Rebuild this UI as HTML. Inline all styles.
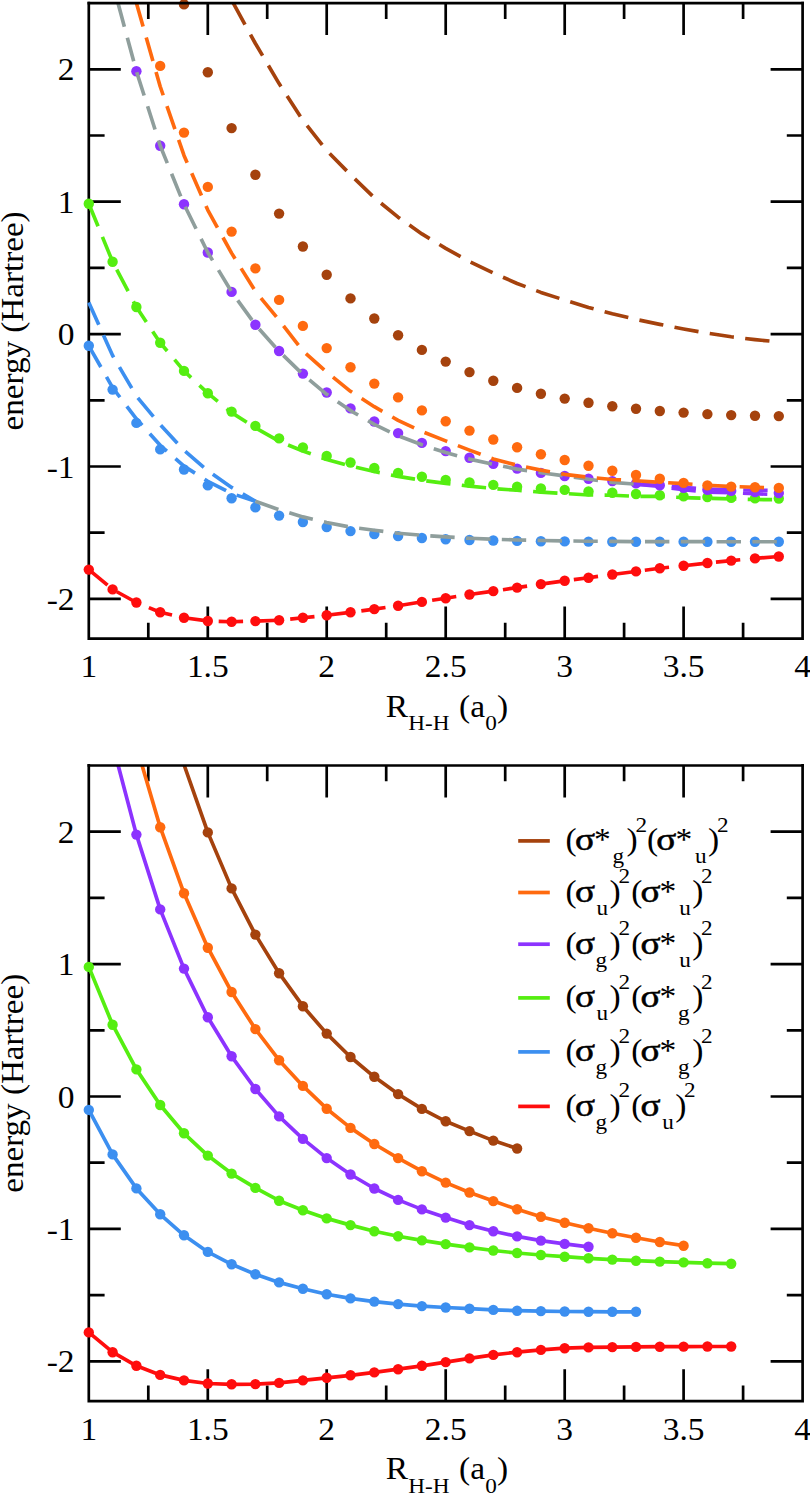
<!DOCTYPE html>
<html><head><meta charset="utf-8"><title>H4 energies</title>
<style>html,body{margin:0;padding:0;background:#fff;overflow:hidden}svg{display:block}text{font-family:"Liberation Serif",serif;font-size:31px;fill:#000}</style></head><body>
<svg width="810" height="1493" viewBox="0 0 810 1493">
<rect width="810" height="1493" fill="#fff"/>
<defs><clipPath id="c1"><rect x="88.8" y="3.1" width="713.8" height="635.5"/></clipPath><clipPath id="c2"><rect x="88.8" y="765.5" width="713.8" height="635.7"/></clipPath></defs>
<g fill="none" stroke="#000" stroke-width="2.7" stroke-linecap="butt" stroke-linejoin="miter">
<path d="M88.8 1.8 V638.6 H802.6 V1.8" />
<path d="M148.3 3.1 v15.8 M148.3 638.6 v-15.8 M207.8 3.1 v32 M207.8 638.6 v-32 M267.2 3.1 v15.8 M267.2 638.6 v-15.8 M326.7 3.1 v32 M326.7 638.6 v-32 M386.2 3.1 v15.8 M386.2 638.6 v-15.8 M445.7 3.1 v32 M445.7 638.6 v-32 M505.2 3.1 v15.8 M505.2 638.6 v-15.8 M564.7 3.1 v32 M564.7 638.6 v-32 M624.1 3.1 v15.8 M624.1 638.6 v-15.8 M683.6 3.1 v32 M683.6 638.6 v-32 M743.1 3.1 v15.8 M743.1 638.6 v-15.8 M88.8 69.3 h32 M802.6 69.3 h-32 M88.8 135.5 h15.8 M802.6 135.5 h-15.8 M88.8 201.7 h32 M802.6 201.7 h-32 M88.8 267.9 h15.8 M802.6 267.9 h-15.8 M88.8 334.1 h32 M802.6 334.1 h-32 M88.8 400.3 h15.8 M802.6 400.3 h-15.8 M88.8 466.5 h32 M802.6 466.5 h-32 M88.8 532.7 h15.8 M802.6 532.7 h-15.8 M88.8 598.9 h32 M802.6 598.9 h-32" />
</g>
<g fill="#ff0d0d"><circle cx="88.8" cy="569.6" r="5.2"/><circle cx="112.6" cy="589.4" r="5.2"/><circle cx="136.4" cy="602.5" r="5.2"/><circle cx="160.2" cy="612.3" r="5.2"/><circle cx="184" cy="617.8" r="5.2"/><circle cx="207.8" cy="621" r="5.2"/><circle cx="231.6" cy="621.7" r="5.2"/><circle cx="255.4" cy="621.1" r="5.2"/><circle cx="279.1" cy="620.2" r="5.2"/><circle cx="302.9" cy="617.8" r="5.2"/><circle cx="326.7" cy="615.3" r="5.2"/><circle cx="350.5" cy="612.3" r="5.2"/><circle cx="374.3" cy="609.1" r="5.2"/><circle cx="398.1" cy="605.7" r="5.2"/><circle cx="421.9" cy="601.9" r="5.2"/><circle cx="445.7" cy="598.2" r="5.2"/><circle cx="469.5" cy="594.5" r="5.2"/><circle cx="493.3" cy="591.1" r="5.2"/><circle cx="517.1" cy="587.6" r="5.2"/><circle cx="540.9" cy="584.1" r="5.2"/><circle cx="564.7" cy="580.8" r="5.2"/><circle cx="588.5" cy="577.7" r="5.2"/><circle cx="612.3" cy="574.5" r="5.2"/><circle cx="636" cy="571.4" r="5.2"/><circle cx="659.8" cy="568.3" r="5.2"/><circle cx="683.6" cy="565.7" r="5.2"/><circle cx="707.4" cy="563" r="5.2"/><circle cx="731.2" cy="560.6" r="5.2"/><circle cx="755" cy="558.4" r="5.2"/><circle cx="778.8" cy="556.5" r="5.2"/></g>
<g fill="none" stroke-width="3.65" stroke-dasharray="24.4 11.4" stroke-linejoin="round">
<path d="M88.8 569.6 L112.6 589.4 L136.4 602.5 L160.2 612.3 L184 617.8 L207.8 621 L231.6 621.7 L255.4 621.1 L279.1 620.2 L302.9 617.8 L326.7 615.3 L350.5 612.3 L374.3 609.1 L398.1 605.7 L421.9 601.9 L445.7 598.2 L469.5 594.5 L493.3 591.1 L517.1 587.6 L540.9 584.1 L564.7 580.8 L588.5 577.7 L612.3 574.5 L636 571.4 L659.8 568.3 L683.6 565.7 L707.4 563 L731.2 560.6 L755 558.4 L778.8 556.5" stroke="#ff0d0d"/>
</g>
<g fill="#3c8ff0"><circle cx="88.8" cy="345.8" r="5.2"/><circle cx="112.6" cy="389.6" r="5.2"/><circle cx="136.4" cy="422.9" r="5.2"/><circle cx="160.2" cy="449.4" r="5.2"/><circle cx="184" cy="469.5" r="5.2"/><circle cx="207.8" cy="485.4" r="5.2"/><circle cx="231.6" cy="498.3" r="5.2"/><circle cx="255.4" cy="507.4" r="5.2"/><circle cx="279.1" cy="515.6" r="5.2"/><circle cx="302.9" cy="522" r="5.2"/><circle cx="326.7" cy="527.1" r="5.2"/><circle cx="350.5" cy="531.1" r="5.2"/><circle cx="374.3" cy="534" r="5.2"/><circle cx="398.1" cy="536.1" r="5.2"/><circle cx="421.9" cy="538" r="5.2"/><circle cx="445.7" cy="539.2" r="5.2"/><circle cx="469.5" cy="540" r="5.2"/><circle cx="493.3" cy="540.5" r="5.2"/><circle cx="517.1" cy="540.9" r="5.2"/><circle cx="540.9" cy="541.2" r="5.2"/><circle cx="564.7" cy="541.4" r="5.2"/><circle cx="588.5" cy="541.6" r="5.2"/><circle cx="612.3" cy="541.7" r="5.2"/><circle cx="636" cy="541.7" r="5.2"/><circle cx="659.8" cy="541.7" r="5.2"/><circle cx="683.6" cy="541.7" r="5.2"/><circle cx="707.4" cy="541.7" r="5.2"/><circle cx="731.2" cy="541.7" r="5.2"/><circle cx="755" cy="541.7" r="5.2"/><circle cx="778.8" cy="541.7" r="5.2"/></g>
<g fill="none" stroke-width="3.65" stroke-dasharray="24.4 11.4" stroke-linejoin="round">
<path d="M88.8 345.8 L112.6 387.7 L136.4 418.8 L160.2 445.3 L184 466.1 L207.8 481.3 L231.6 493.5 L255.4 501.3" stroke="#3c8ff0"/>
<path d="M88.8 302.5 L112.6 355.5 L136.4 396.1 L160.2 424.7 L184 450.3 L207.8 470.7 L231.6 487.4 L255.4 501.3" stroke="#3c8ff0"/>
<path d="M255.4 501.3 L279.1 509.7 L302.9 516.9 L326.7 522.5 L350.5 527.1 L374.3 530.2 L398.1 533.2 L421.9 535.3 L445.7 536.9 L469.5 538.3 L493.3 539.2 L517.1 540 L540.9 540.5 L564.7 540.9 L588.5 541.2 L612.3 541.4 L636 541.6 L659.8 541.6 L683.6 541.6 L707.4 541.7 L731.2 541.7 L755 541.7 L778.8 541.7" stroke="#8f9e9c"/>
</g>
<g fill="#55ee11"><circle cx="88.8" cy="203.7" r="5.2"/><circle cx="112.6" cy="261.7" r="5.2"/><circle cx="136.4" cy="307" r="5.2"/><circle cx="160.2" cy="342.7" r="5.2"/><circle cx="184" cy="370.9" r="5.2"/><circle cx="207.8" cy="393.2" r="5.2"/><circle cx="231.6" cy="411.6" r="5.2"/><circle cx="255.4" cy="425.9" r="5.2"/><circle cx="279.1" cy="438.4" r="5.2"/><circle cx="302.9" cy="447.4" r="5.2"/><circle cx="326.7" cy="455.9" r="5.2"/><circle cx="350.5" cy="462.5" r="5.2"/><circle cx="374.3" cy="468" r="5.2"/><circle cx="398.1" cy="472.9" r="5.2"/><circle cx="421.9" cy="476.7" r="5.2"/><circle cx="445.7" cy="479.9" r="5.2"/><circle cx="469.5" cy="482.5" r="5.2"/><circle cx="493.3" cy="484.9" r="5.2"/><circle cx="517.1" cy="486.8" r="5.2"/><circle cx="540.9" cy="488.5" r="5.2"/><circle cx="564.7" cy="489.9" r="5.2"/><circle cx="588.5" cy="491.4" r="5.2"/><circle cx="612.3" cy="492.8" r="5.2"/><circle cx="636" cy="494" r="5.2"/><circle cx="659.8" cy="495.2" r="5.2"/><circle cx="683.6" cy="496.4" r="5.2"/><circle cx="707.4" cy="497.1" r="5.2"/><circle cx="731.2" cy="497.7" r="5.2"/><circle cx="755" cy="498.3" r="5.2"/><circle cx="778.8" cy="498.5" r="5.2"/></g>
<g fill="none" stroke-width="3.65" stroke-dasharray="24.4 11.4" stroke-linejoin="round">
<path d="M88.8 203.7 L112.6 261.7 L136.4 307 L160.2 342.7 L184 370.9 L207.8 393.2 L231.6 412.6 L255.4 427.8 L279.1 441.3 L302.9 451 L326.7 459.5 L350.5 466.1 L374.3 471.5 L398.1 476.4 L421.9 480.3 L445.7 483.4 L469.5 486.1 L493.3 488.5 L517.1 490.3 L540.9 492.1 L564.7 493.5 L588.5 495 L612.3 495.2 L636 496.4 L659.8 496.4 L683.6 497.6 L707.4 498.3 L731.2 498.9 L755 499.5 L778.8 499.7" stroke="#55ee11"/>
</g>
<g fill="#8c33ff"><circle cx="136.4" cy="71.2" r="5.2"/><circle cx="160.2" cy="145.7" r="5.2"/><circle cx="184" cy="204.3" r="5.2"/><circle cx="207.8" cy="252.5" r="5.2"/><circle cx="231.6" cy="291.9" r="5.2"/><circle cx="255.4" cy="324.7" r="5.2"/><circle cx="279.1" cy="351" r="5.2"/><circle cx="302.9" cy="373.6" r="5.2"/><circle cx="326.7" cy="392.5" r="5.2"/><circle cx="350.5" cy="408.4" r="5.2"/><circle cx="374.3" cy="421.5" r="5.2"/><circle cx="398.1" cy="433.1" r="5.2"/><circle cx="421.9" cy="442.9" r="5.2"/><circle cx="445.7" cy="451.1" r="5.2"/><circle cx="469.5" cy="457.8" r="5.2"/><circle cx="493.3" cy="463.7" r="5.2"/><circle cx="517.1" cy="468.6" r="5.2"/><circle cx="540.9" cy="472.9" r="5.2"/><circle cx="564.7" cy="476" r="5.2"/><circle cx="588.5" cy="478.8" r="5.2"/><circle cx="612.3" cy="481.1" r="5.2"/><circle cx="636" cy="483.4" r="5.2"/><circle cx="659.8" cy="485.2" r="5.2"/><circle cx="683.6" cy="487.7" r="5.2"/><circle cx="707.4" cy="489.7" r="5.2"/><circle cx="731.2" cy="490.9" r="5.2"/><circle cx="755" cy="492.1" r="5.2"/><circle cx="778.8" cy="493.1" r="5.2"/></g>
<g fill="none" stroke-width="3.65" stroke-dasharray="24.4 11.4" stroke-linejoin="round">
<path d="M118 3.1 L136.4 71.2 L160.2 145.7 L184 204.3 L207.8 252.5 L231.6 291.9 L255.4 324.7 L279.1 351.3 L302.9 374.5 L326.7 394.3 L350.5 410.6 L374.3 424.4 L398.1 435.8 L421.9 444.8 L445.7 452.5 L469.5 459.1 L493.3 464.4 L517.1 469.1 L540.9 472.7 L564.7 475.9 L588.5 479.2 L612.3 482.4 L636 484.2" stroke="#8f9e9c"/>
<path d="M636 484.2 L659.8 485.4 L683.6 487.4 L707.4 489 L731.2 489.8 L755 490.2 L778.8 490.5" stroke="#8c33ff"/>
<path d="M636 484.2 L659.8 486.5 L683.6 489.8 L707.4 492.1 L731.2 492.8 L755 493.8 L778.8 494.6" stroke="#8c33ff"/>
</g>
<g fill="#ff6a0f"><circle cx="160.2" cy="65.9" r="5.2"/><circle cx="184" cy="132.6" r="5.2"/><circle cx="207.8" cy="186.9" r="5.2"/><circle cx="231.6" cy="231.6" r="5.2"/><circle cx="255.4" cy="268.4" r="5.2"/><circle cx="279.1" cy="299.9" r="5.2"/><circle cx="302.9" cy="325.9" r="5.2"/><circle cx="326.7" cy="348.1" r="5.2"/><circle cx="350.5" cy="367.2" r="5.2"/><circle cx="374.3" cy="383.6" r="5.2"/><circle cx="398.1" cy="397.4" r="5.2"/><circle cx="421.9" cy="410.4" r="5.2"/><circle cx="445.7" cy="421.2" r="5.2"/><circle cx="469.5" cy="430.6" r="5.2"/><circle cx="493.3" cy="439.5" r="5.2"/><circle cx="517.1" cy="447.2" r="5.2"/><circle cx="540.9" cy="454.3" r="5.2"/><circle cx="564.7" cy="460" r="5.2"/><circle cx="588.5" cy="465.7" r="5.2"/><circle cx="612.3" cy="470.7" r="5.2"/><circle cx="636" cy="475" r="5.2"/><circle cx="659.8" cy="478.7" r="5.2"/><circle cx="683.6" cy="482.9" r="5.2"/><circle cx="707.4" cy="485.4" r="5.2"/><circle cx="731.2" cy="486.6" r="5.2"/><circle cx="755" cy="487.3" r="5.2"/><circle cx="778.8" cy="487.9" r="5.2"/></g>
<g fill="none" stroke-width="3.65" stroke-dasharray="24.4 11.4" stroke-linejoin="round">
<path d="M136.4 3.1 L136.4 3.1 L160.2 86.5 L184 155.4 L207.8 210.1 L231.6 253.1 L255.4 291.3 L279.1 320.2 L302.9 351 L326.7 372.1 L350.5 391.3 L374.3 406.7 L398.1 420.3 L421.9 431.5 L445.7 440.9 L469.5 450.1 L493.3 459 L517.1 465.2 L540.9 470.1 L564.7 474.4 L588.5 477.2 L612.3 479.5 L636 480.7 L659.8 482.3 L683.6 483.6 L707.4 485.3 L731.2 486.5 L755 487.3 L778.8 488.1" stroke="#ff6a0f"/>
</g>
<g fill="#a5420d"><circle cx="184" cy="4.4" r="5.2"/><circle cx="207.8" cy="72.3" r="5.2"/><circle cx="231.6" cy="128.1" r="5.2"/><circle cx="255.4" cy="174.8" r="5.2"/><circle cx="279.1" cy="213.6" r="5.2"/><circle cx="302.9" cy="246.5" r="5.2"/><circle cx="326.7" cy="274.7" r="5.2"/><circle cx="350.5" cy="298.4" r="5.2"/><circle cx="374.3" cy="318.5" r="5.2"/><circle cx="398.1" cy="335.2" r="5.2"/><circle cx="421.9" cy="349.9" r="5.2"/><circle cx="445.7" cy="361.6" r="5.2"/><circle cx="469.5" cy="372.1" r="5.2"/><circle cx="493.3" cy="380.8" r="5.2"/><circle cx="517.1" cy="387.9" r="5.2"/><circle cx="540.9" cy="393.8" r="5.2"/><circle cx="564.7" cy="398.6" r="5.2"/><circle cx="588.5" cy="402.7" r="5.2"/><circle cx="612.3" cy="406.3" r="5.2"/><circle cx="636" cy="408.8" r="5.2"/><circle cx="659.8" cy="411" r="5.2"/><circle cx="683.6" cy="412.6" r="5.2"/><circle cx="707.4" cy="414.1" r="5.2"/><circle cx="731.2" cy="415.1" r="5.2"/><circle cx="755" cy="415.8" r="5.2"/><circle cx="778.8" cy="416.1" r="5.2"/></g>
<g fill="none" stroke-width="3.65" stroke-dasharray="24.4 11.4" stroke-linejoin="round">
<path d="M233.3 3.1 L255.4 43.5 L279.1 83.6 L302.9 120.4 L326.7 150.5 L350.5 174.7 L374.3 197.7 L398.1 217.2 L421.9 233.9 L445.7 248.4 L469.5 261.5 L493.3 273 L517.1 283.5 L540.9 292.4 L564.7 300.1 L588.5 307.4 L612.3 313.8 L636 319.4 L659.8 324.4 L683.6 329 L707.4 333.2 L731.2 336.8 L755 339.6 L778.8 342" stroke="#a5420d"/>
</g>
<g fill="none" stroke="#000" stroke-width="2.7">
<path d="M87.5 3.1 H804" />
</g>
<text transform="translate(74.6 80.3) scale(1.08 1)" text-anchor="end">2</text>
<text transform="translate(74.6 212.7) scale(1.08 1)" text-anchor="end">1</text>
<text transform="translate(74.6 345.1) scale(1.08 1)" text-anchor="end">0</text>
<text transform="translate(74.6 477.5) scale(1.08 1)" text-anchor="end">-1</text>
<text transform="translate(74.6 609.9) scale(1.08 1)" text-anchor="end">-2</text>
<text transform="translate(88.8 677.3) scale(1.08 1)" text-anchor="middle">1</text>
<text transform="translate(207.8 677.3) scale(1.08 1)" text-anchor="middle">1.5</text>
<text transform="translate(326.7 677.3) scale(1.08 1)" text-anchor="middle">2</text>
<text transform="translate(445.7 677.3) scale(1.08 1)" text-anchor="middle">2.5</text>
<text transform="translate(564.7 677.3) scale(1.08 1)" text-anchor="middle">3</text>
<text transform="translate(683.6 677.3) scale(1.08 1)" text-anchor="middle">3.5</text>
<text transform="translate(802.6 677.3) scale(1.08 1)" text-anchor="middle">4</text>
<text transform="translate(385.8 716.7) scale(1.08 1)">R</text>
<text transform="translate(408.2 730.2) scale(1.08 1)" style="font-size:21.5px">H-H</text>
<text transform="translate(459 716.7) scale(1.08 1)">(a</text>
<text transform="translate(485.2 730.2) scale(1.08 1)" style="font-size:21.5px">0</text>
<text transform="translate(497 716.7) scale(1.08 1)">)</text>
<text transform="translate(23.0 320.9) rotate(-90)" text-anchor="middle" textLength="219" lengthAdjust="spacingAndGlyphs">energy (Hartree)</text>
<g fill="none" stroke="#000" stroke-width="2.7" stroke-linecap="butt" stroke-linejoin="miter">
<path d="M88.8 764.1 V1401.2 H802.6 V764.1" />
<path d="M148.3 765.5 v15.8 M148.3 1401.2 v-15.8 M207.8 765.5 v32 M207.8 1401.2 v-32 M267.2 765.5 v15.8 M267.2 1401.2 v-15.8 M326.7 765.5 v32 M326.7 1401.2 v-32 M386.2 765.5 v15.8 M386.2 1401.2 v-15.8 M445.7 765.5 v32 M445.7 1401.2 v-32 M505.2 765.5 v15.8 M505.2 1401.2 v-15.8 M564.7 765.5 v32 M564.7 1401.2 v-32 M624.1 765.5 v15.8 M624.1 1401.2 v-15.8 M683.6 765.5 v32 M683.6 1401.2 v-32 M743.1 765.5 v15.8 M743.1 1401.2 v-15.8 M88.8 831.7 h32 M802.6 831.7 h-32 M88.8 897.9 h15.8 M802.6 897.9 h-15.8 M88.8 964.1 h32 M802.6 964.1 h-32 M88.8 1030.3 h15.8 M802.6 1030.3 h-15.8 M88.8 1096.5 h32 M802.6 1096.5 h-32 M88.8 1162.7 h15.8 M802.6 1162.7 h-15.8 M88.8 1228.9 h32 M802.6 1228.9 h-32 M88.8 1295.1 h15.8 M802.6 1295.1 h-15.8 M88.8 1361.3 h32 M802.6 1361.3 h-32" />
</g>
<path d="M88.8 1332.4 L112.6 1352.2 L136.4 1365.8 L160.2 1374.9 L184 1380.4 L207.8 1383.5 L231.6 1384.3 L255.4 1384.1 L279.1 1382.9 L302.9 1380.4 L326.7 1377.8 L350.5 1375.3 L374.3 1372.4 L398.1 1369.2 L421.9 1365.8 L445.7 1362.1 L469.5 1358.4 L493.3 1354.9 L517.1 1352.2 L540.9 1349.9 L564.7 1348.2 L588.5 1347.4 L612.3 1347.1 L636 1346.9 L659.8 1346.7 L683.6 1346.6 L707.4 1346.5 L731.2 1346.5" fill="none" stroke="#ff0d0d" stroke-width="3.7" stroke-linejoin="round"/>
<g fill="#ff0d0d"><circle cx="88.8" cy="1332.4" r="5.2"/><circle cx="112.6" cy="1352.2" r="5.2"/><circle cx="136.4" cy="1365.8" r="5.2"/><circle cx="160.2" cy="1374.9" r="5.2"/><circle cx="184" cy="1380.4" r="5.2"/><circle cx="207.8" cy="1383.5" r="5.2"/><circle cx="231.6" cy="1384.3" r="5.2"/><circle cx="255.4" cy="1384.1" r="5.2"/><circle cx="279.1" cy="1382.9" r="5.2"/><circle cx="302.9" cy="1380.4" r="5.2"/><circle cx="326.7" cy="1377.8" r="5.2"/><circle cx="350.5" cy="1375.3" r="5.2"/><circle cx="374.3" cy="1372.4" r="5.2"/><circle cx="398.1" cy="1369.2" r="5.2"/><circle cx="421.9" cy="1365.8" r="5.2"/><circle cx="445.7" cy="1362.1" r="5.2"/><circle cx="469.5" cy="1358.4" r="5.2"/><circle cx="493.3" cy="1354.9" r="5.2"/><circle cx="517.1" cy="1352.2" r="5.2"/><circle cx="540.9" cy="1349.9" r="5.2"/><circle cx="564.7" cy="1348.2" r="5.2"/><circle cx="588.5" cy="1347.4" r="5.2"/><circle cx="612.3" cy="1347.1" r="5.2"/><circle cx="636" cy="1346.9" r="5.2"/><circle cx="659.8" cy="1346.7" r="5.2"/><circle cx="683.6" cy="1346.6" r="5.2"/><circle cx="707.4" cy="1346.5" r="5.2"/><circle cx="731.2" cy="1346.5" r="5.2"/></g>
<path d="M88.8 1109.9 L112.6 1154.4 L136.4 1188.4 L160.2 1214.3 L184 1235.3 L207.8 1251.9 L231.6 1264.3 L255.4 1274.3 L279.1 1282.4 L302.9 1288.7 L326.7 1294.2 L350.5 1298.4 L374.3 1301.6 L398.1 1304.1 L421.9 1306.1 L445.7 1307.5 L469.5 1308.7 L493.3 1309.9 L517.1 1310.7 L540.9 1311.1 L564.7 1311.5 L588.5 1311.7 L612.3 1311.8 L636 1311.8" fill="none" stroke="#3c8ff0" stroke-width="3.7" stroke-linejoin="round"/>
<g fill="#3c8ff0"><circle cx="88.8" cy="1109.9" r="5.2"/><circle cx="112.6" cy="1154.4" r="5.2"/><circle cx="136.4" cy="1188.4" r="5.2"/><circle cx="160.2" cy="1214.3" r="5.2"/><circle cx="184" cy="1235.3" r="5.2"/><circle cx="207.8" cy="1251.9" r="5.2"/><circle cx="231.6" cy="1264.3" r="5.2"/><circle cx="255.4" cy="1274.3" r="5.2"/><circle cx="279.1" cy="1282.4" r="5.2"/><circle cx="302.9" cy="1288.7" r="5.2"/><circle cx="326.7" cy="1294.2" r="5.2"/><circle cx="350.5" cy="1298.4" r="5.2"/><circle cx="374.3" cy="1301.6" r="5.2"/><circle cx="398.1" cy="1304.1" r="5.2"/><circle cx="421.9" cy="1306.1" r="5.2"/><circle cx="445.7" cy="1307.5" r="5.2"/><circle cx="469.5" cy="1308.7" r="5.2"/><circle cx="493.3" cy="1309.9" r="5.2"/><circle cx="517.1" cy="1310.7" r="5.2"/><circle cx="540.9" cy="1311.1" r="5.2"/><circle cx="564.7" cy="1311.5" r="5.2"/><circle cx="588.5" cy="1311.7" r="5.2"/><circle cx="612.3" cy="1311.8" r="5.2"/><circle cx="636" cy="1311.8" r="5.2"/></g>
<path d="M88.8 966.9 L112.6 1024.7 L136.4 1069.4 L160.2 1105 L184 1133.3 L207.8 1155.6 L231.6 1173.6 L255.4 1187.9 L279.1 1200.7 L302.9 1210.2 L326.7 1218.4 L350.5 1225.1 L374.3 1231.2 L398.1 1236.2 L421.9 1240.4 L445.7 1244.1 L469.5 1247.4 L493.3 1250.5 L517.1 1253 L540.9 1255 L564.7 1256.7 L588.5 1258.3 L612.3 1259.6 L636 1260.7 L659.8 1261.6 L683.6 1262.4 L707.4 1263.2 L731.2 1263.7" fill="none" stroke="#55ee11" stroke-width="3.7" stroke-linejoin="round"/>
<g fill="#55ee11"><circle cx="88.8" cy="966.9" r="5.2"/><circle cx="112.6" cy="1024.7" r="5.2"/><circle cx="136.4" cy="1069.4" r="5.2"/><circle cx="160.2" cy="1105" r="5.2"/><circle cx="184" cy="1133.3" r="5.2"/><circle cx="207.8" cy="1155.6" r="5.2"/><circle cx="231.6" cy="1173.6" r="5.2"/><circle cx="255.4" cy="1187.9" r="5.2"/><circle cx="279.1" cy="1200.7" r="5.2"/><circle cx="302.9" cy="1210.2" r="5.2"/><circle cx="326.7" cy="1218.4" r="5.2"/><circle cx="350.5" cy="1225.1" r="5.2"/><circle cx="374.3" cy="1231.2" r="5.2"/><circle cx="398.1" cy="1236.2" r="5.2"/><circle cx="421.9" cy="1240.4" r="5.2"/><circle cx="445.7" cy="1244.1" r="5.2"/><circle cx="469.5" cy="1247.4" r="5.2"/><circle cx="493.3" cy="1250.5" r="5.2"/><circle cx="517.1" cy="1253" r="5.2"/><circle cx="540.9" cy="1255" r="5.2"/><circle cx="564.7" cy="1256.7" r="5.2"/><circle cx="588.5" cy="1258.3" r="5.2"/><circle cx="612.3" cy="1259.6" r="5.2"/><circle cx="636" cy="1260.7" r="5.2"/><circle cx="659.8" cy="1261.6" r="5.2"/><circle cx="683.6" cy="1262.4" r="5.2"/><circle cx="707.4" cy="1263.2" r="5.2"/><circle cx="731.2" cy="1263.7" r="5.2"/></g>
<path d="M118.2 765.5 L136.4 834.6 L160.2 909.4 L184 968.6 L207.8 1017.3 L231.6 1056.3 L255.4 1089 L279.1 1116.4 L302.9 1138.9 L326.7 1158.1 L350.5 1174.5 L374.3 1188.5 L398.1 1199.9 L421.9 1209.4 L445.7 1217.6 L469.5 1225.1 L493.3 1231.2 L517.1 1236.4 L540.9 1240.6 L564.7 1243.9 L588.5 1246.8" fill="none" stroke="#8c33ff" stroke-width="3.7" stroke-linejoin="round"/>
<g fill="#8c33ff"><circle cx="136.4" cy="834.6" r="5.2"/><circle cx="160.2" cy="909.4" r="5.2"/><circle cx="184" cy="968.6" r="5.2"/><circle cx="207.8" cy="1017.3" r="5.2"/><circle cx="231.6" cy="1056.3" r="5.2"/><circle cx="255.4" cy="1089" r="5.2"/><circle cx="279.1" cy="1116.4" r="5.2"/><circle cx="302.9" cy="1138.9" r="5.2"/><circle cx="326.7" cy="1158.1" r="5.2"/><circle cx="350.5" cy="1174.5" r="5.2"/><circle cx="374.3" cy="1188.5" r="5.2"/><circle cx="398.1" cy="1199.9" r="5.2"/><circle cx="421.9" cy="1209.4" r="5.2"/><circle cx="445.7" cy="1217.6" r="5.2"/><circle cx="469.5" cy="1225.1" r="5.2"/><circle cx="493.3" cy="1231.2" r="5.2"/><circle cx="517.1" cy="1236.4" r="5.2"/><circle cx="540.9" cy="1240.6" r="5.2"/><circle cx="564.7" cy="1243.9" r="5.2"/><circle cx="588.5" cy="1246.8" r="5.2"/></g>
<path d="M142.1 765.5 L160.2 827.2 L184 893.3 L207.8 947.7 L231.6 992 L255.4 1029.1 L279.1 1060.2 L302.9 1085.9 L326.7 1108.7 L350.5 1127.9 L374.3 1144 L398.1 1158.1 L421.9 1171.2 L445.7 1182.6 L469.5 1192.5 L493.3 1201.1 L517.1 1209.3 L540.9 1216.7 L564.7 1222.8 L588.5 1228.2 L612.3 1233.3 L636 1237.8 L659.8 1242 L683.6 1245.7" fill="none" stroke="#ff6a0f" stroke-width="3.7" stroke-linejoin="round"/>
<g fill="#ff6a0f"><circle cx="160.2" cy="827.2" r="5.2"/><circle cx="184" cy="893.3" r="5.2"/><circle cx="207.8" cy="947.7" r="5.2"/><circle cx="231.6" cy="992" r="5.2"/><circle cx="255.4" cy="1029.1" r="5.2"/><circle cx="279.1" cy="1060.2" r="5.2"/><circle cx="302.9" cy="1085.9" r="5.2"/><circle cx="326.7" cy="1108.7" r="5.2"/><circle cx="350.5" cy="1127.9" r="5.2"/><circle cx="374.3" cy="1144" r="5.2"/><circle cx="398.1" cy="1158.1" r="5.2"/><circle cx="421.9" cy="1171.2" r="5.2"/><circle cx="445.7" cy="1182.6" r="5.2"/><circle cx="469.5" cy="1192.5" r="5.2"/><circle cx="493.3" cy="1201.1" r="5.2"/><circle cx="517.1" cy="1209.3" r="5.2"/><circle cx="540.9" cy="1216.7" r="5.2"/><circle cx="564.7" cy="1222.8" r="5.2"/><circle cx="588.5" cy="1228.2" r="5.2"/><circle cx="612.3" cy="1233.3" r="5.2"/><circle cx="636" cy="1237.8" r="5.2"/><circle cx="659.8" cy="1242" r="5.2"/><circle cx="683.6" cy="1245.7" r="5.2"/></g>
<path d="M184.3 765.5 L207.8 832.4 L231.6 888.4 L255.4 934.6 L279.1 973.2 L302.9 1006.2 L326.7 1033.6 L350.5 1057 L374.3 1076.8 L398.1 1094.1 L421.9 1108.9 L445.7 1121.3 L469.5 1131.1 L493.3 1140.6 L517.1 1148.5" fill="none" stroke="#a5420d" stroke-width="3.7" stroke-linejoin="round"/>
<g fill="#a5420d"><circle cx="207.8" cy="832.4" r="5.2"/><circle cx="231.6" cy="888.4" r="5.2"/><circle cx="255.4" cy="934.6" r="5.2"/><circle cx="279.1" cy="973.2" r="5.2"/><circle cx="302.9" cy="1006.2" r="5.2"/><circle cx="326.7" cy="1033.6" r="5.2"/><circle cx="350.5" cy="1057" r="5.2"/><circle cx="374.3" cy="1076.8" r="5.2"/><circle cx="398.1" cy="1094.1" r="5.2"/><circle cx="421.9" cy="1108.9" r="5.2"/><circle cx="445.7" cy="1121.3" r="5.2"/><circle cx="469.5" cy="1131.1" r="5.2"/><circle cx="493.3" cy="1140.6" r="5.2"/><circle cx="517.1" cy="1148.5" r="5.2"/></g>
<g fill="none" stroke="#000" stroke-width="2.7">
<path d="M87.5 765.5 H804" />
</g>
<text transform="translate(74.6 842.7) scale(1.08 1)" text-anchor="end">2</text>
<text transform="translate(74.6 975.1) scale(1.08 1)" text-anchor="end">1</text>
<text transform="translate(74.6 1107.5) scale(1.08 1)" text-anchor="end">0</text>
<text transform="translate(74.6 1239.9) scale(1.08 1)" text-anchor="end">-1</text>
<text transform="translate(74.6 1372.3) scale(1.08 1)" text-anchor="end">-2</text>
<text transform="translate(88.8 1439.9) scale(1.08 1)" text-anchor="middle">1</text>
<text transform="translate(207.8 1439.9) scale(1.08 1)" text-anchor="middle">1.5</text>
<text transform="translate(326.7 1439.9) scale(1.08 1)" text-anchor="middle">2</text>
<text transform="translate(445.7 1439.9) scale(1.08 1)" text-anchor="middle">2.5</text>
<text transform="translate(564.7 1439.9) scale(1.08 1)" text-anchor="middle">3</text>
<text transform="translate(683.6 1439.9) scale(1.08 1)" text-anchor="middle">3.5</text>
<text transform="translate(802.6 1439.9) scale(1.08 1)" text-anchor="middle">4</text>
<text transform="translate(385.8 1479.3) scale(1.08 1)">R</text>
<text transform="translate(408.2 1492.8) scale(1.08 1)" style="font-size:21.5px">H-H</text>
<text transform="translate(459 1479.3) scale(1.08 1)">(a</text>
<text transform="translate(485.2 1492.8) scale(1.08 1)" style="font-size:21.5px">0</text>
<text transform="translate(497 1479.3) scale(1.08 1)">)</text>
<text transform="translate(23.0 1083.3) rotate(-90)" text-anchor="middle" textLength="219" lengthAdjust="spacingAndGlyphs">energy (Hartree)</text>
<path d="M518.2 840.9 H549.8" stroke="#a5420d" stroke-width="3.7" fill="none"/>
<text transform="translate(565.6 850.3) scale(1.08 1)">(</text><text transform="translate(574.9 850.3) scale(1.2 1)" stroke="#000" stroke-width="0.55">σ</text><text transform="translate(594 850.3) scale(1.08 1)">*</text><text transform="translate(612.4 863.3) scale(1.08 1)" style="font-size:21.5px">g</text><text transform="translate(626.6 850.3) scale(1.08 1)">)</text><text transform="translate(635.5 831.8) scale(1.08 1)" style="font-size:21.5px">2</text><text transform="translate(647 850.3) scale(1.08 1)">(</text><text transform="translate(656.3 850.3) scale(1.2 1)" stroke="#000" stroke-width="0.55">σ</text><text transform="translate(675.4 850.3) scale(1.08 1)">*</text><text transform="translate(695 863.3) scale(1.08 1)" style="font-size:21.5px">u</text><text transform="translate(708 850.3) scale(1.08 1)">)</text><text transform="translate(716.9 831.8) scale(1.08 1)" style="font-size:21.5px">2</text>
<path d="M518.2 892.5 H549.8" stroke="#ff6a0f" stroke-width="3.7" fill="none"/>
<text transform="translate(565.6 901.9) scale(1.08 1)">(</text><text transform="translate(574.9 901.9) scale(1.2 1)" stroke="#000" stroke-width="0.55">σ</text><text transform="translate(596.6 914.9) scale(1.08 1)" style="font-size:21.5px">u</text><text transform="translate(609.6 901.9) scale(1.08 1)">)</text><text transform="translate(618.5 883.4) scale(1.08 1)" style="font-size:21.5px">2</text><text transform="translate(631.2 901.9) scale(1.08 1)">(</text><text transform="translate(640.5 901.9) scale(1.2 1)" stroke="#000" stroke-width="0.55">σ</text><text transform="translate(659.6 901.9) scale(1.08 1)">*</text><text transform="translate(679.2 914.9) scale(1.08 1)" style="font-size:21.5px">u</text><text transform="translate(692.2 901.9) scale(1.08 1)">)</text><text transform="translate(701.1 883.4) scale(1.08 1)" style="font-size:21.5px">2</text>
<path d="M518.2 944.2 H549.8" stroke="#8c33ff" stroke-width="3.7" fill="none"/>
<text transform="translate(565.6 953.6) scale(1.08 1)">(</text><text transform="translate(574.9 953.6) scale(1.2 1)" stroke="#000" stroke-width="0.55">σ</text><text transform="translate(595.4 966.6) scale(1.08 1)" style="font-size:21.5px">g</text><text transform="translate(609.6 953.6) scale(1.08 1)">)</text><text transform="translate(618.5 935.1) scale(1.08 1)" style="font-size:21.5px">2</text><text transform="translate(631.2 953.6) scale(1.08 1)">(</text><text transform="translate(640.5 953.6) scale(1.2 1)" stroke="#000" stroke-width="0.55">σ</text><text transform="translate(659.6 953.6) scale(1.08 1)">*</text><text transform="translate(679.2 966.6) scale(1.08 1)" style="font-size:21.5px">u</text><text transform="translate(692.2 953.6) scale(1.08 1)">)</text><text transform="translate(701.1 935.1) scale(1.08 1)" style="font-size:21.5px">2</text>
<path d="M518.2 997.9 H549.8" stroke="#55ee11" stroke-width="3.7" fill="none"/>
<text transform="translate(565.6 1007.3) scale(1.08 1)">(</text><text transform="translate(574.9 1007.3) scale(1.2 1)" stroke="#000" stroke-width="0.55">σ</text><text transform="translate(596.6 1020.3) scale(1.08 1)" style="font-size:21.5px">u</text><text transform="translate(609.6 1007.3) scale(1.08 1)">)</text><text transform="translate(618.5 988.8) scale(1.08 1)" style="font-size:21.5px">2</text><text transform="translate(631.2 1007.3) scale(1.08 1)">(</text><text transform="translate(640.5 1007.3) scale(1.2 1)" stroke="#000" stroke-width="0.55">σ</text><text transform="translate(659.6 1007.3) scale(1.08 1)">*</text><text transform="translate(678 1020.3) scale(1.08 1)" style="font-size:21.5px">g</text><text transform="translate(692.2 1007.3) scale(1.08 1)">)</text><text transform="translate(701.1 988.8) scale(1.08 1)" style="font-size:21.5px">2</text>
<path d="M518.2 1051.9 H549.8" stroke="#3c8ff0" stroke-width="3.7" fill="none"/>
<text transform="translate(565.6 1061.3) scale(1.08 1)">(</text><text transform="translate(574.9 1061.3) scale(1.2 1)" stroke="#000" stroke-width="0.55">σ</text><text transform="translate(595.4 1074.3) scale(1.08 1)" style="font-size:21.5px">g</text><text transform="translate(609.6 1061.3) scale(1.08 1)">)</text><text transform="translate(618.5 1042.8) scale(1.08 1)" style="font-size:21.5px">2</text><text transform="translate(631.2 1061.3) scale(1.08 1)">(</text><text transform="translate(640.5 1061.3) scale(1.2 1)" stroke="#000" stroke-width="0.55">σ</text><text transform="translate(659.6 1061.3) scale(1.08 1)">*</text><text transform="translate(678 1074.3) scale(1.08 1)" style="font-size:21.5px">g</text><text transform="translate(692.2 1061.3) scale(1.08 1)">)</text><text transform="translate(701.1 1042.8) scale(1.08 1)" style="font-size:21.5px">2</text>
<path d="M518.2 1106.4 H549.8" stroke="#ff0d0d" stroke-width="3.7" fill="none"/>
<text transform="translate(565.6 1115.8) scale(1.08 1)">(</text><text transform="translate(574.9 1115.8) scale(1.2 1)" stroke="#000" stroke-width="0.55">σ</text><text transform="translate(595.4 1128.8) scale(1.08 1)" style="font-size:21.5px">g</text><text transform="translate(609.6 1115.8) scale(1.08 1)">)</text><text transform="translate(618.5 1097.3) scale(1.08 1)" style="font-size:21.5px">2</text><text transform="translate(631.2 1115.8) scale(1.08 1)">(</text><text transform="translate(640.5 1115.8) scale(1.2 1)" stroke="#000" stroke-width="0.55">σ</text><text transform="translate(662.2 1128.8) scale(1.08 1)" style="font-size:21.5px">u</text><text transform="translate(675.2 1115.8) scale(1.08 1)">)</text><text transform="translate(684.1 1097.3) scale(1.08 1)" style="font-size:21.5px">2</text>
</svg></body></html>
